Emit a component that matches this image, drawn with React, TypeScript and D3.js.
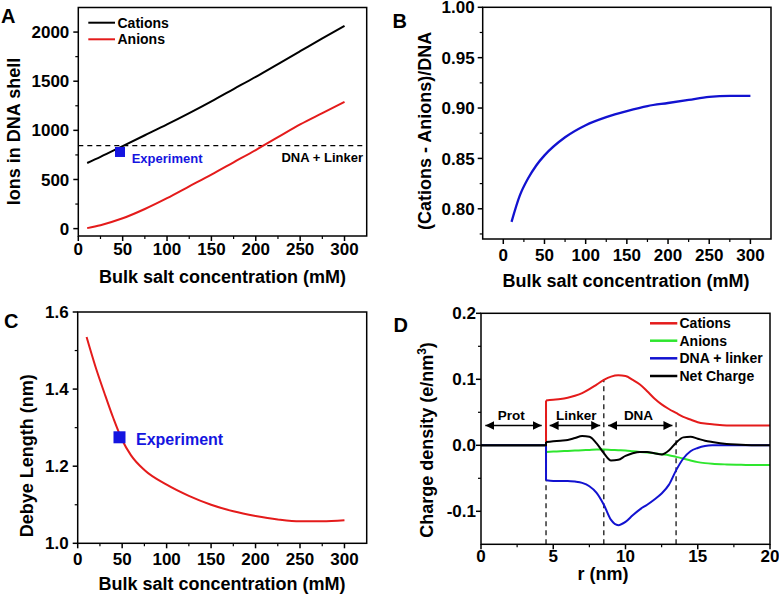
import React from "react";
import * as d3 from "d3";

// ---- Panel A: ions in DNA shell vs bulk salt
const concA = [10, 25, 50, 75, 100, 125, 150, 175, 200, 225, 250, 275, 300];
const cationsA = [668, 730, 840, 950, 1060, 1175, 1295, 1420, 1545, 1675, 1805, 1935, 2063];
const anionsA = [5, 35, 105, 200, 310, 430, 550, 675, 800, 930, 1060, 1175, 1290];
const dnaLinkerA = 845;
const experimentA = { conc: 47, ions: 780 };
const xTicksA = [0, 50, 100, 150, 200, 250, 300];
const yTicksA = [0, 500, 1000, 1500, 2000];

// ---- Panel B: (cations - anions)/DNA
const concB = [10, 20, 30, 40, 50, 75, 100, 125, 150, 175, 200, 225, 250, 275, 300];
const ratioB = [0.787, 0.813, 0.83, 0.843, 0.853, 0.871, 0.883, 0.891, 0.897, 0.902, 0.905, 0.908, 0.911, 0.912, 0.912];
const xTicksB = [0, 50, 100, 150, 200, 250, 300];
const yTicksB = [0.8, 0.85, 0.9, 0.95, 1.0];

// ---- Panel C: Debye length
const concC = [10, 20, 30, 40, 50, 60, 75, 100, 125, 150, 175, 200, 225, 250, 275, 300];
const debyeC = [1.535, 1.458, 1.39, 1.325, 1.268, 1.228, 1.19, 1.152, 1.123, 1.1, 1.083, 1.071, 1.062, 1.057, 1.057, 1.06];
const experimentC = { conc: 47, debye: 1.275 };
const xTicksC = [0, 50, 100, 150, 200, 250, 300];
const yTicksC = [1.0, 1.2, 1.4, 1.6];

// ---- Panel D: charge density profiles
const rD = [4.5, 5, 5.5, 6, 6.5, 7, 7.5, 8, 8.5, 9, 9.5, 10, 10.5, 11, 11.5, 12, 12.5, 13, 13.5, 14, 14.5, 15, 15.5, 16, 17, 18, 19, 20];
const cationsD = [0.068, 0.069, 0.07, 0.072, 0.075, 0.079, 0.085, 0.092, 0.099, 0.104, 0.106, 0.105, 0.099, 0.092, 0.082, 0.071, 0.062, 0.055, 0.049, 0.043, 0.039, 0.035, 0.033, 0.032, 0.03, 0.03, 0.03, 0.03];
const anionsD = [-0.01, -0.0095, -0.009, -0.0085, -0.008, -0.0075, -0.007, -0.0065, -0.0065, -0.007, -0.0075, -0.008, -0.009, -0.01, -0.011, -0.012, -0.0135, -0.015, -0.0175, -0.02, -0.023, -0.0255, -0.027, -0.028, -0.029, -0.0295, -0.03, -0.03];
const dnaD = [-0.053, -0.054, -0.054, -0.054, -0.055, -0.057, -0.062, -0.072, -0.09, -0.113, -0.121, -0.116, -0.106, -0.097, -0.09, -0.082, -0.073, -0.06, -0.038, -0.02, -0.009, -0.004, -0.001, 0, 0, 0, 0, 0];
const netD = [0.005, 0.006, 0.007, 0.008, 0.011, 0.014, 0.013, 0.003, -0.012, -0.023, -0.022, -0.016, -0.012, -0.01, -0.01, -0.012, -0.014, -0.008, 0.004, 0.012, 0.013, 0.01, 0.007, 0.005, 0.002, 0.001, 0, 0];
const shellEdge = 4.5;
const regionBounds = [4.5, 8.5, 13.5];
const regionTops = [0.068, 0.099, 0.035];
const regions = [
  { name: "Prot", from: 0.3, to: 4.2, mid: 2.1 },
  { name: "Linker", from: 4.75, to: 8.25, mid: 6.6 },
  { name: "DNA", from: 8.8, to: 13.25, mid: 10.9 },
];
const xTicksD = [0, 5, 10, 15, 20];
const yTicksD = [-0.1, 0.0, 0.1, 0.2];

const FONT = "'Liberation Sans', Arial, Helvetica, sans-serif";
const RED = "#e41b1b";
const GREEN = "#2ee62e";
const BLUE = "#1212d0";
const EXP_BLUE = "#1515e0";

// panel scales
const xA = d3.scaleLinear().domain([0, 325]).range([78.3, 366.7]);
const yA = d3.scaleLinear().domain([-75, 2250]).range([236, 7.5]);
const xB = d3.scaleLinear().domain([-25, 325]).range([482.7, 771]);
const yB = d3.scaleLinear().domain([0.77, 1.0]).range([239, 7.3]);
const xC = d3.scaleLinear().domain([0, 325]).range([77.7, 366.7]);
const yC = d3.scaleLinear().domain([1.0, 1.6]).range([543.3, 312]);
const xD = d3.scaleLinear().domain([0, 20]).range([481, 770]);
const yD = d3.scaleLinear().domain([-0.15, 0.2]).range([544.3, 313.3]);

type Sc = d3.ScaleLinear<number, number>;

const curvePath = (xs: number[], ys: number[], x: Sc, y: Sc) =>
  d3
    .line<number>()
    .x((d) => x(d))
    .y((_, i) => y(ys[i]))
    .curve(d3.curveMonotoneX)(xs) || "";

function Frame(props: {
  x: Sc;
  y: Sc;
  xTicks: number[];
  yTicks: number[];
  xFmt: (v: number) => string;
  yFmt: (v: number) => string;
  xLabelDy: number;
  yLabelDx: number;
}) {
  const { x, y, xTicks, yTicks, xFmt, yFmt, xLabelDy, yLabelDx } = props;
  const [x0, x1] = x.range();
  const [y0, y1] = y.range();
  const xStep = xTicks[1] - xTicks[0];
  const yStep = yTicks[1] - yTicks[0];
  const xd = x.domain();
  const yd = y.domain();
  const xMinor = d3.range(xTicks[0] - xStep / 2, xd[1], xStep).filter((v) => v > xd[0] + 1e-9 && v < xd[1] - 1e-9);
  const yMinor = d3.range(yTicks[0] - yStep / 2, yd[1], yStep).filter((v) => v > yd[0] + 1e-9 && v < yd[1] - 1e-9);
  return (
    <g>
      <rect x={x0} y={y1} width={x1 - x0} height={y0 - y1} fill="none" stroke="#000" strokeWidth={1.5} />
      {xTicks.map((t) => (
        <g key={"xt" + t}>
          <line x1={x(t)} x2={x(t)} y1={y0} y2={y0 + 5} stroke="#000" strokeWidth={1.5} />
          <text x={x(t)} y={y0 + xLabelDy} textAnchor="middle" fontSize={17} fontWeight="bold" fontFamily={FONT}>
            {xFmt(t)}
          </text>
        </g>
      ))}
      {xMinor.map((t) => (
        <line key={"xm" + t} x1={x(t)} x2={x(t)} y1={y0} y2={y0 + 3} stroke="#000" strokeWidth={1.2} />
      ))}
      {yTicks.map((t) => (
        <g key={"yt" + t}>
          <line x1={x0 - 5} x2={x0} y1={y(t)} y2={y(t)} stroke="#000" strokeWidth={1.5} />
          <text x={x0 - yLabelDx} y={y(t)} dy="0.36em" textAnchor="end" fontSize={17} fontWeight="bold" fontFamily={FONT}>
            {yFmt(t)}
          </text>
        </g>
      ))}
      {yMinor.map((t) => (
        <line key={"ym" + t} x1={x0 - 3} x2={x0} y1={y(t)} y2={y(t)} stroke="#000" strokeWidth={1.2} />
      ))}
    </g>
  );
}

const Title = ({ x, y, children, rotate = false, size = 18 }: any) => (
  <text
    transform={rotate ? `translate(${x},${y}) rotate(-90)` : `translate(${x},${y})`}
    textAnchor="middle"
    fontSize={size}
    fontWeight="bold"
    fontFamily={FONT}
  >
    {children}
  </text>
);

const Letter = ({ x, y, t }: any) => (
  <text x={x} y={y} fontSize={20} fontWeight="bold" fontFamily={FONT}>
    {t}
  </text>
);

export default function App() {
  const fmt0 = (v: number) => d3.format("d")(v);
  const fmt2 = (v: number) => d3.format(".2f")(v);
  const fmt1 = (v: number) => d3.format(".1f")(v);
  const fmtD = (v: number) => (v === 0 ? "0.0" : d3.format(".1f")(v).replace("−", "-"));

  const legendA = [
    { name: "Cations", color: "#000", y: 22.7 },
    { name: "Anions", color: RED, y: 39.3 },
  ];
  const legendD = [
    { name: "Cations", color: RED, y: 323.3 },
    { name: "Anions", color: GREEN, y: 340.7 },
    { name: "DNA + linker", color: BLUE, y: 358.3 },
    { name: "Net Charge", color: "#000", y: 376 },
  ];
  const seriesD = [
    { ys: cationsD, color: RED },
    { ys: anionsD, color: GREEN },
    { ys: dnaD, color: BLUE },
    { ys: netD, color: "#000" },
  ];
  const arrowY = yD(0.03);

  return (
    <svg width={779} height={597} style={{ position: "absolute", left: 0, top: 0, background: "#fff" }}>
      <defs>
        <marker id="arr" viewBox="0 0 10 10" refX={10} refY={5} markerWidth={9} markerHeight={9} markerUnits="userSpaceOnUse" orient="auto-start-reverse">
          <path d="M0,0 L10,5 L0,10 z" fill="#000" />
        </marker>
      </defs>

      {/* A */}
      <Letter x={1} y={22.7} t="A" />
      <line x1={xA.range()[0]} x2={xA.range()[1]} y1={yA(dnaLinkerA)} y2={yA(dnaLinkerA)} stroke="#000" strokeWidth={1.2} strokeDasharray="5,4" />
      <path d={curvePath(concA, cationsA, xA, yA)} fill="none" stroke="#000" strokeWidth={2} />
      <path d={curvePath(concA, anionsA, xA, yA)} fill="none" stroke={RED} strokeWidth={2} />
      <rect x={xA(experimentA.conc) - 5} y={yA(experimentA.ions) - 5} width={10} height={10} fill={EXP_BLUE} />
      <text x={131.7} y={163.3} fontSize={13} fontWeight="bold" fontFamily={FONT} fill={EXP_BLUE}>Experiment</text>
      <text x={363} y={161.7} textAnchor="end" fontSize={13} fontWeight="bold" fontFamily={FONT}>DNA + Linker</text>
      {legendA.map((l) => (
        <g key={"la" + l.name}>
          <line x1={88.3} x2={115} y1={l.y} y2={l.y} stroke={l.color} strokeWidth={2} />
          <text x={117.5} y={l.y} dy="0.36em" fontSize={14} fontWeight="bold" fontFamily={FONT}>{l.name}</text>
        </g>
      ))}
      <Frame x={xA} y={yA} xTicks={xTicksA} yTicks={yTicksA} xFmt={fmt0} yFmt={fmt0} xLabelDy={19} yLabelDx={9} />
      <Title x={222.5} y={283.3}>Bulk salt concentration (mM)</Title>
      <Title x={20} y={131.5} rotate>Ions in DNA shell</Title>

      {/* B */}
      <Letter x={392.5} y={28.3} t="B" />
      <path d={curvePath(concB, ratioB, xB, yB)} fill="none" stroke={BLUE} strokeWidth={2.3} />
      <Frame x={xB} y={yB} xTicks={xTicksB} yTicks={yTicksB} xFmt={fmt0} yFmt={fmt2} xLabelDy={22} yLabelDx={8} />
      <Title x={626} y={286.7}>Bulk salt concentration (mM)</Title>
      <Title x={431} y={130.8} rotate>(Cations - Anions)/DNA</Title>

      {/* C */}
      <Letter x={4} y={328.3} t="C" />
      <path d={curvePath(concC, debyeC, xC, yC)} fill="none" stroke={RED} strokeWidth={2} />
      <rect x={xC(experimentC.conc) - 6} y={yC(experimentC.debye) - 6} width={12} height={12} fill={EXP_BLUE} />
      <text x={136} y={445} fontSize={16} fontWeight="bold" fontFamily={FONT} fill={EXP_BLUE}>Experiment</text>
      <Frame x={xC} y={yC} xTicks={xTicksC} yTicks={yTicksC} xFmt={fmt0} yFmt={fmt1} xLabelDy={21.7} yLabelDx={9} />
      <Title x={222} y={590}>Bulk salt concentration (mM)</Title>
      <Title x={33} y={455.8} rotate>Debye Length (nm)</Title>

      {/* D */}
      <Letter x={393.5} y={331.7} t="D" />
      {regionBounds.map((b, i) => (
        <line
          key={"rb" + b}
          x1={xD(b)}
          x2={xD(b)}
          y1={yD.range()[0]}
          y2={yD(regionTops[i])}
          stroke="#000"
          strokeWidth={1.2}
          strokeDasharray="5,4"
        />
      ))}
      {regions.map((r) => (
        <g key={"rg" + r.name}>
          <line x1={xD(r.from)} x2={xD(r.to)} y1={arrowY} y2={arrowY} stroke="#000" strokeWidth={1.5} markerStart="url(#arr)" markerEnd="url(#arr)" />
          <text x={xD(r.mid)} y={arrowY - 6} textAnchor="middle" fontSize={13.5} fontWeight="bold" fontFamily={FONT}>{r.name}</text>
        </g>
      ))}
      {seriesD.map((s, i) => (
        <g key={"sd" + i}>
          <path
            d={d3.line<number>().x((d) => xD(d)).y((_, j) => yD([0, 0, s.ys[0]][j]))([0, shellEdge, shellEdge]) || ""}
            fill="none"
            stroke={s.color}
            strokeWidth={2}
          />
          <path d={curvePath(rD, s.ys, xD, yD)} fill="none" stroke={s.color} strokeWidth={2} />
        </g>
      ))}
      {legendD.map((l) => (
        <g key={"ld" + l.name}>
          <line x1={650} x2={677.3} y1={l.y} y2={l.y} stroke={l.color} strokeWidth={2.5} />
          <text x={679.5} y={l.y} dy="0.36em" fontSize={14} fontWeight="bold" fontFamily={FONT}>{l.name}</text>
        </g>
      ))}
      <Frame x={xD} y={yD} xTicks={xTicksD} yTicks={yTicksD} xFmt={fmt0} yFmt={fmtD} xLabelDy={18} yLabelDx={5} />
      <Title x={603} y={580}>r (nm)</Title>
      <Title x={433} y={440} rotate>
        Charge density (e/nm<tspan fontSize={12} dy={-7}>3</tspan>
        <tspan dy={7}>)</tspan>
      </Title>
    </svg>
  );
}
